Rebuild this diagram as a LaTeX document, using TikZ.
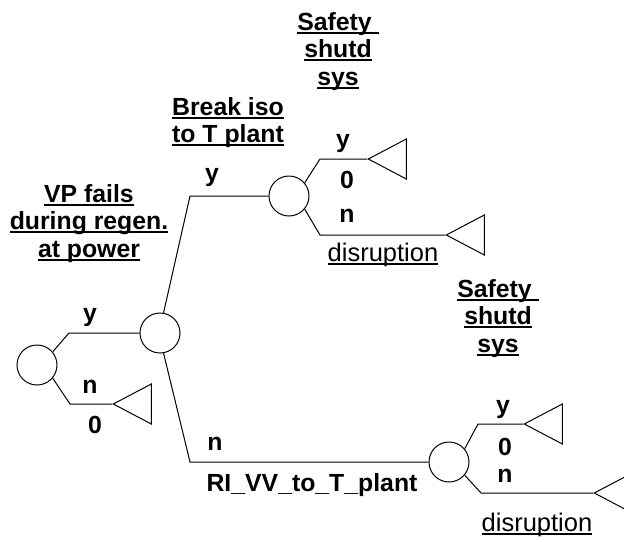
\documentclass[tikz,border=0pt]{standalone}
\usepackage{fontspec}
\setmainfont{Liberation Sans}
\usetikzlibrary{shapes.geometric}
\newcommand\undl[1]{\setbox0\hbox{#1}\rlap{\rule[-3.5pt]{\wd0}{1.7pt}}\box0}

\begin{document}
\begin{tikzpicture}[
  x=1pt, y=-1pt,
  font=\fontsize{24.8}{27.5}\selectfont\bfseries,
  hd/.style={align=center, anchor=north, inner sep=0pt},
  lbl/.style={anchor=base, inner sep=0pt},
  res/.style={anchor=base, inner sep=0pt, font=\fontsize{25.5}{27.5}\selectfont\mdseries},
  chance/.style={circle, draw, line width=1pt, minimum size=40pt, inner sep=0pt},
  term/.style={isosceles triangle, isosceles triangle stretches, shape border rotate=180,
    draw, line width=1pt, minimum width=40pt, minimum height=38pt, inner sep=0pt, anchor=apex},
  br/.style={line width=1pt},
]
\useasboundingbox (0,0) rectangle (624,541);

%% ============ event headers ============
\node[hd] (hvp) at (89,184) {\undl{VP fails}\\\undl{during regen.}\\\undl{at power}};
\node[hd] (hbr) at (228,97) {\undl{Break iso}\\\undl{to T plant}};
\node[hd] (hs1) at (338,12) {\undl{Safety\ }\\\undl{shutd}\\\undl{sys}};
\node[hd] (hs2) at (498,279) {\undl{Safety\ }\\\undl{shutd}\\\undl{sys}};

%% ============ chance and end nodes ============
\node[chance] (c1) at (37,365) {};
\node[chance] (c2) at (160,333) {};
\node[chance] (c3) at (289,196) {};
\node[chance] (c4) at (449,462) {};
\node[term] (t1) at (112,404) {};
\node[term] (t2) at (367,159) {};
\node[term] (t3) at (445,235) {};
\node[term] (t4) at (523,424) {};
\node[term] (t5) at (593,493) {};

% branch corners
\coordinate (k1) at (69,333);
\coordinate (k2) at (70,404);
\coordinate (k3) at (190,196);
\coordinate (k4) at (190,462);
\coordinate (k5) at (320,159);
\coordinate (k6) at (320,235);
\coordinate (k7) at (478,424);
\coordinate (k8) at (481,493);

%% ============ branches ============
\draw[br] (c1.40) -- (k1) -- (c2.west);
\draw[br] (c1.-40) -- (k2) -- (t1.apex);
\draw[br] (c2.80) -- (k3) -- (c3.west);
\draw[br] (c2.-80) -- (k4) -- (c4.west);
\draw[br] (c3.40) -- (k5) -- (t2.apex);
\draw[br] (c3.-40) -- (k6) -- (t3.apex);
\draw[br] (c4.40) -- (k7) -- (t4.apex);
\draw[br] (c4.-40) -- (k8) -- (t5.apex);

%% ============ branch labels ============
\node[lbl] (l1y) at (90,321) {y};
\node[lbl] (l1n) at (90,393) {n};
\node[lbl] (l1o) at (95,433) {0};
\node[lbl] (l2y) at (212,181) {y};
\node[lbl] (l2n) at (215,450) {n};
\node[lbl] (l2r) at (312,491) {RI\_VV\_to\_T\_plant};
\node[lbl] (l3y) at (343,147) {y};
\node[lbl] (l3o) at (347,188) {0};
\node[lbl] (l3n) at (347,222) {n};
\node[res] (l3d) at (383,261) {\undl{disruption}};
\node[lbl] (l4y) at (503,413) {y};
\node[lbl] (l4o) at (505,455) {0};
\node[lbl] (l4n) at (505,482) {n};
\node[res] (l4d) at (537,531) {\undl{disruption}};

\end{tikzpicture}
\end{document}
